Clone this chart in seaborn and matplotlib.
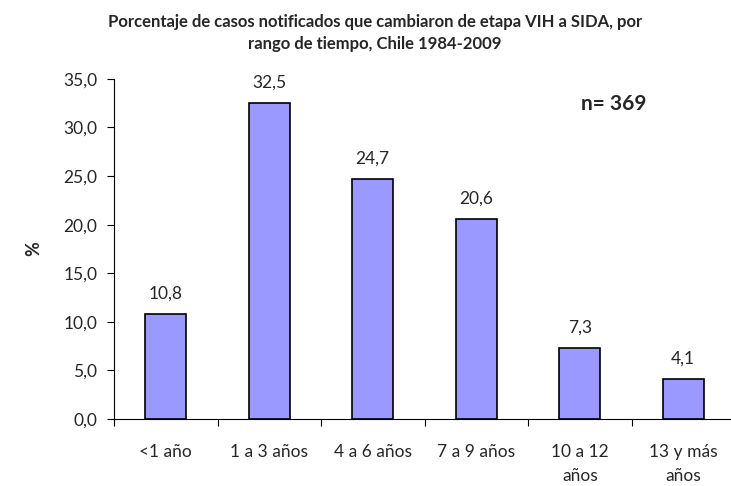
import pandas as pd
import matplotlib
matplotlib.use("Agg")
import matplotlib.pyplot as plt
import seaborn as sns
from matplotlib.ticker import FixedLocator, FuncFormatter

# data
categories = ['<1 año', '1 a 3 años', '4 a 6 años', '7 a 9 años', '10 a 12\naños', '13 y más\naños']
percentages = [10.8, 32.5, 24.7, 20.6, 7.3, 4.1]
n_total = 369

df = pd.DataFrame({'rango': categories, 'pct': percentages})

sns.set_style("white")
plt.rcParams['font.family'] = ['Lato', 'DejaVu Sans']

fig = plt.figure(figsize=(7.31, 4.86), dpi=100)
ax = fig.add_axes([0.156, 0.138, 0.8495, 0.6996])

sns.barplot(data=df, x='rango', y='pct', color='#9999FF', edgecolor='black',
            linewidth=1.2, width=0.4, saturation=1, ax=ax)

ax.set_ylim(0, 35)
ax.set_xlim(-0.5, len(categories) - 0.5)
ax.set_yticks([0, 5, 10, 15, 20, 25, 30, 35])
ax.yaxis.set_major_formatter(FuncFormatter(lambda v, p: f"{v:.1f}".replace('.', ',')))

# value labels above bars
for i, v in enumerate(percentages):
    ax.text(i, v + 1.3, f"{v:.1f}".replace('.', ','), ha='center', va='bottom', fontsize=12.5)

# ticks at category boundaries on x axis
ax.xaxis.set_minor_locator(FixedLocator([i - 0.5 for i in range(len(categories) + 1)]))
ax.tick_params(axis='x', which='major', length=0, labelsize=12.5, pad=18)
ax.tick_params(axis='x', which='minor', length=5, width=0.8, color='black', bottom=True)
ax.tick_params(axis='y', length=5, width=0.8, color='black', left=True, labelsize=12.5, pad=7)
for lbl in ax.get_xticklabels():
    lbl.set_linespacing(1.65)

sns.despine(ax=ax, top=True, right=True)
for s in ['left', 'bottom']:
    ax.spines[s].set_color('black')
    ax.spines[s].set_linewidth(0.8)

ax.set_xlabel('')
ax.set_ylabel('%', fontsize=13, fontweight='bold')
ax.yaxis.set_label_coords(-0.116, 0.5)

fig.text(0.513, 0.932, 'Porcentaje de casos notificados que cambiaron de etapa VIH a SIDA, por\nrango de tiempo, Chile 1984-2009',
         ha='center', va='center', fontsize=12, fontweight='bold', linespacing=1.5)
ax.text(4.33, 32.4, f'n= {n_total}', ha='center', va='center', fontsize=15, fontweight='bold')

fig.savefig('out.png', dpi=100)
